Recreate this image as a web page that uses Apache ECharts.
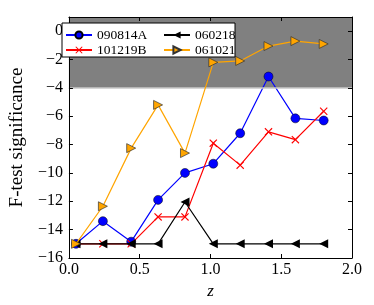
<!DOCTYPE html>
<html><head><meta charset="utf-8">
<script src="https://cdn.jsdelivr.net/npm/echarts@6/dist/echarts.min.js"></script>
<style>html,body{margin:0;padding:0;background:#fff}#c{width:374px;height:305px}</style>
</head><body><div id="c"></div>
<script>
var zValues = [0.05, 0.24, 0.44, 0.63, 0.82, 1.02, 1.21, 1.41, 1.60, 1.80];
var s090814A = [-15, -13.4, -14.85, -11.9, -10.0, -9.35, -7.2, -3.2, -6.15, -6.3];
var s101219B = [-15, -15, -15, -13.1, -13.1, -7.9, -9.45, -7.1, -7.65, -5.65];
var s060218  = [-15, -15, -15, -15, -12.05, -15, -15, -15, -15, -15];
var s061021  = [-15, -12.35, -8.25, -5.2, -8.6, -2.2, -2.1, -1.05, -0.7, -0.9];
var names = ['090814A', '101219B', '060218', '061021'];
var bandLow = -4, bandHigh = 1;

function pts(v){ return zValues.map(function(x,i){ return [x, v[i]]; }); }
var font = 'Liberation Serif';
var chart = echarts.init(document.getElementById('c'));
var leftTri = 'path://M0,5 L10,0 L10,10 Z';
var rightTri = 'path://M10,5 L0,0 L0,10 Z';
var cross = 'path://M0,1 L1,0 L5,4 L9,0 L10,1 L6,5 L10,9 L9,10 L5,6 L1,10 L0,9 L4,5 Z';
function axisCommon(){
  return {z:10,axisLine:{show:true,onZero:false,lineStyle:{color:'#000',width:1}},
    axisTick:{show:true,inside:true,length:4,lineStyle:{color:'#000'}},
    splitLine:{show:false}};
}
function legendCommon(left, data){
  return {orient:'vertical',left:left,top:28,itemWidth:26,itemHeight:9,itemGap:1,padding:0,z:21,
    textStyle:{fontFamily:font,fontSize:13.5,color:'#000'},data:data};
}
chart.setOption({
  animation:false,
  grid:{left:56,right:22,top:17,bottom:47,show:false},
  graphic:[{type:'rect',z:20,shape:{x:62,y:23,width:173,height:34},style:{fill:'#fff',stroke:'#000',lineWidth:1}}],
  xAxis:[Object.assign(axisCommon(),{type:'value',min:0,max:2,interval:0.5,position:'bottom',
      axisLabel:{color:'#000',fontFamily:font,fontSize:16,margin:4,formatter:function(v){return v.toFixed(1);}},
      name:'z',nameLocation:'middle',nameGap:16,nameTextStyle:{color:'#000',fontFamily:font,fontSize:17,fontStyle:'italic'}}),
    Object.assign(axisCommon(),{type:'value',min:0,max:2,interval:0.5,position:'top',axisLabel:{show:false}})],
  yAxis:[Object.assign(axisCommon(),{type:'value',min:-16,max:1,interval:2,position:'left',
      axisLabel:{color:'#000',fontFamily:font,fontSize:16,margin:6,formatter:function(v){return v<0?'\u2212'+(-v):String(v);}},
      name:'F-test significance',nameLocation:'middle',nameGap:34,nameTextStyle:{color:'#000',fontFamily:font,fontSize:19}}),
    Object.assign(axisCommon(),{type:'value',min:-16,max:1,interval:2,position:'right',axisLabel:{show:false}})],
  legend:[legendCommon(65,['090814A','101219B']), legendCommon(163,['060218','061021'])],
  series:[
    {name:names[0],type:'line',data:pts(s090814A),symbol:'circle',symbolSize:9,
      lineStyle:{color:'#0000ff',width:1.2},itemStyle:{color:'#0000ff',borderColor:'#000',borderWidth:0.5},z:2,
      markArea:{silent:true,itemStyle:{color:'#808080'},data:[[{xAxis:0,yAxis:bandLow},{xAxis:2,yAxis:bandHigh}]]},
      markLine:{silent:true,symbol:'none',label:{show:false},lineStyle:{color:'#c8c8c8',width:1.5,type:'solid'},data:[{yAxis:bandLow}]}},
    {name:names[1],type:'line',data:pts(s101219B),symbol:cross,symbolSize:8,
      lineStyle:{color:'#ff0000',width:1.2},itemStyle:{color:'#ff0000'},z:3},
    {name:names[2],type:'line',data:pts(s060218),symbol:leftTri,symbolSize:9,
      lineStyle:{color:'#000',width:1.2},itemStyle:{color:'#000'},z:4},
    {name:names[3],type:'line',data:pts(s061021),symbol:rightTri,symbolSize:9,
      lineStyle:{color:'#ffa500',width:1.2},itemStyle:{color:'#ffa500',borderColor:'#333',borderWidth:0.7},z:5}
  ]
});
</script></body></html>
